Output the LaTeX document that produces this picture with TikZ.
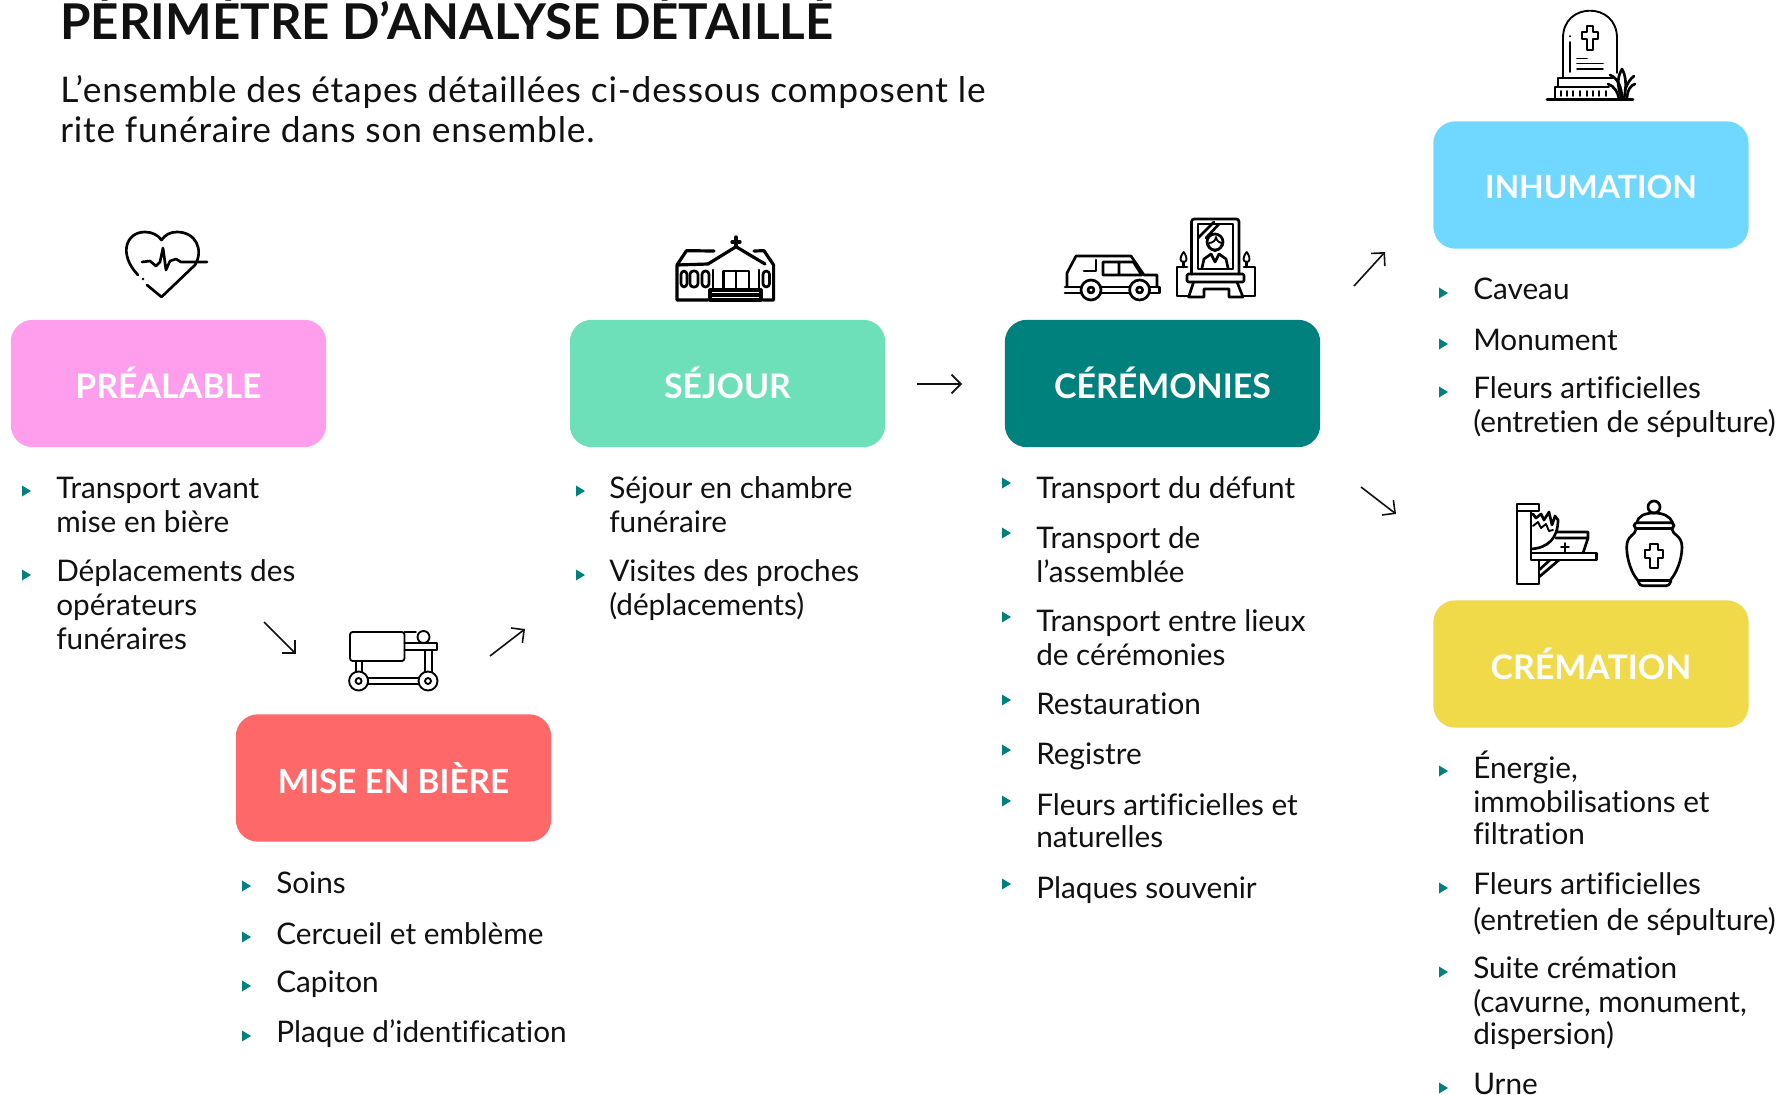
\documentclass[tikz,border=0pt]{standalone}
\usepackage{fontspec}
\setmainfont{Lato}[Ligatures=NoCommon]
\usetikzlibrary{arrows.meta}
\definecolor{cpink}{HTML}{FF9EEC}
\definecolor{cgreen}{HTML}{6EE0B9}
\definecolor{cteal}{HTML}{00817E}
\definecolor{cblue}{HTML}{70D8FF}
\definecolor{cyellow}{HTML}{F0DA4A}
\definecolor{cred}{HTML}{FF6868}
\definecolor{ctext}{HTML}{111111}
\tikzset{
  phase/.style={rounded corners=16.5pt,minimum width=236.5pt,minimum height=95.5pt,inner sep=0pt,text=white,
    text height=22.5pt,text depth=0pt,font=\fontsize{25.4pt}{28pt}\selectfont\bfseries},
  itemtext/.style={anchor=north west,inner sep=0pt,align=left,text=ctext,font=\fontsize{22.3pt}{25.5pt}\selectfont},
  flow/.style={draw=ctext,line width=1.2pt,-{Straight Barb[length=7pt,width=14pt]}},
  ic/.style={draw=black,line width=2pt,line join=round,line cap=round},
  icheavy/.style={draw=black,line width=2.4pt,line join=round,line cap=round},
  icthin/.style={draw=black,line width=1.4pt,line join=round,line cap=round}
}
\newcommand\bul[2]{\fill[cteal] (#1,#2-5.5) -- (#1+9,#2) -- (#1,#2+5.5) -- cycle;}
\newcommand\itm[4]{\node[itemtext] (#1) at (#2,#3-23) {\rule{0pt}{18pt}#4};}
\newcommand\crossicon[7]{\draw[#7] ({#1-#3},#2) -- ++({2*#3},0) -- ++(0,#4) -- ++(#5,0) -- ++(0,{2*#3}) -- ++({-#5},0) -- ++(0,#6) -- ++({-2*#3},0) -- ++(0,{-#6}) -- ++({-#5},0) -- ++(0,{-2*#3}) -- ++(#5,0) -- cycle;}
\begin{document}
\begin{tikzpicture}[x=0.75pt,y=-0.75pt]
\path[use as bounding box] (0,0) rectangle (1779,1095);
\clip (0,0) rectangle (1779,1095);
% title
\node[anchor=base west,inner sep=0pt,text=ctext,font=\fontsize{37pt}{40pt}\selectfont\bfseries] (title) at (60,40) {PÉRIMÈTRE D’ANALYSE DÉTAILLÉ};
\node[anchor=base west,inner sep=0pt,text=ctext,font=\fontsize{26.5pt}{30pt}\selectfont\addfontfeature{LetterSpace=2.2}] (sub1) at (60,103) {L’ensemble des étapes détaillées ci-dessous composent le};
\node[anchor=base west,inner sep=0pt,text=ctext,font=\fontsize{26.5pt}{30pt}\selectfont\addfontfeature{LetterSpace=2.2}] (sub2) at (60,143) {rite funéraire dans son ensemble.};
% boxes
\node[phase,fill=cpink] (prealable) at (168.5,383.5) {PRÉALABLE};
\node[phase,fill=cgreen] (sejour) at (727.5,383.5) {SÉJOUR};
\node[phase,fill=cteal] (ceremonies) at (1162.5,383.5) {CÉRÉMONIES};
\node[phase,fill=cblue,text height=21pt,font=\fontsize{24pt}{28pt}\selectfont\bfseries] (inhumation) at (1591,185) {INHUMATION};
\node[phase,fill=cyellow] (cremation) at (1591,664) {CRÉMATION};
\node[phase,fill=cred,font=\fontsize{25pt}{28pt}\selectfont\bfseries] (miseenbiere) at (393.5,778) {MISE EN BIÈRE};
% arrows
\coordinate (a1s) at (264,622); \coordinate (a1e) at (296,654);
\coordinate (a2s) at (490,656); \coordinate (a2e) at (525,629);
\coordinate (a3s) at (917,384); \coordinate (a3e) at (962,384);
\coordinate (a4s) at (1354,286); \coordinate (a4e) at (1385,252);
\coordinate (a5s) at (1361,487); \coordinate (a5e) at (1396,514);
\draw[flow] (a1s) -- (a1e);
\draw[flow] (a2s) -- (a2e);
\draw[flow] (a3s) -- (a3e);
\draw[flow] (a4s) -- (a4e);
\draw[flow] (a5s) -- (a5e);
% items
\itm{p1}{56}{497}{Transport avant\\[0.5pt]mise en bière}
\itm{p2}{56}{580}{Déplacements des\\opérateurs\\funéraires}
\bul{22}{491}\bul{22}{575}
\itm{s1}{609}{497}{Séjour en chambre\\[0.5pt]funéraire}
\itm{s2}{609}{580}{Visites des proches\\(déplacements)}
\bul{576}{491}\bul{576}{575}
\itm{c1}{1036}{497}{Transport du défunt}
\itm{c2}{1036}{547}{Transport de\\[0.5pt]l’assemblée}
\itm{c3}{1036}{630}{Transport entre lieux\\[0.5pt]de cérémonies}
\itm{c4}{1036}{713}{Restauration}
\itm{c5}{1036}{763}{Registre}
\itm{c6}{1036}{814}{Fleurs artificielles et\\[-1.5pt]naturelles}
\itm{c7}{1036}{897}{Plaques souvenir}
\foreach \yy in {483,533,617,700,750,801,884} {\bul{1002}{\yy}}
\itm{i1}{1473}{298}{Caveau}
\itm{i2}{1473}{349}{Monument}
\itm{i3}{1473}{397}{Fleurs artificielles\\(entretien de sépulture)}
\foreach \yy in {293,344,392} {\bul{1439}{\yy}}
\itm{k1}{1473}{774}{Énergie,\\immobilisations et\\[-1.5pt]filtration}
\itm{k2}{1473}{893}{Fleurs artificielles\\[1.5pt](entretien de sépulture)}
\itm{k3}{1473}{977}{Suite crémation\\(cavurne, monument,\\[-1.5pt]dispersion)}
\itm{k4}{1473}{1093}{Urne}
\foreach \yy in {771,888,972,1088} {\bul{1439}{\yy}}
\itm{m1}{276}{892}{Soins}
\itm{m2}{276}{943}{Cercueil et emblème}
\itm{m3}{276}{991}{Capiton}
\itm{m4}{276}{1041}{Plaque d’identification}
\foreach \yy in {886,937,986,1036} {\bul{242}{\yy}}
% heart icon
\draw[ic] (147,285) -- (161.5,297) -- (195,265)
  .. controls (204,250) and (196,232) .. (177,232)
  .. controls (170,232) and (165,235) .. (161.5,240)
  .. controls (158,235) and (152,232) .. (145,232)
  .. controls (126,232) and (118,254) .. (138,275);
\fill (143,279) circle (1.4);
\draw[ic] (142,262) -- (150,261) -- (156,266) -- (160,262) -- (163,248) -- (166,270) -- (170,261) -- (176,259) -- (181,262) -- (207,262);
% stretcher icon
\draw[icthin,rounded corners=2pt] (404.5,632) -- (350,632) -- (350,661) -- (404.5,661) -- cycle;
\draw[icthin] (404.5,632) -- (416,632);
\draw[icthin] (423.5,637) circle (6);
\draw[icthin] (404.5,643) -- (437,643) -- (437,650) -- (404.5,650);
\draw[icthin] (356,661) -- (356,672) (362,661) -- (362,672) (425,650) -- (425,672) (432,650) -- (432,672);
\draw[icthin] (358.6,681) circle (9.5) (358.6,681) circle (3);
\draw[icthin] (428,681) circle (9.5) (428,681) circle (3);
\draw[icthin] (368,678) -- (419,678) (368,684) -- (419,684);
% church icon
\draw[icheavy] (708,264) -- (736,246.7) -- (765,264);
\draw[icheavy] (714,251) -- (686.5,250.7) -- (677,265) (708,264) -- (677,265) -- (677,300) -- (708,300);
\draw[icheavy] (754,251) -- (764,250.7) -- (773.6,265) -- (773.6,300) -- (763,300);
\draw[icheavy] (736,247) -- (736,237) (732,242) -- (740,242);
\foreach \xa/\xb in {681/687,690/698,702/709,763/769.5} {\draw[ic,rounded corners=2.5pt] (\xa,287) -- (\xa,271) -- (\xb,271) -- (\xb,287) -- cycle;}
\draw[ic] (723.5,290) -- (723.5,271) -- (749,271) -- (749,290) (736,271) -- (736,290) (713,270) -- (713,290) (759,270) -- (759,290);
\draw[icheavy] (710,290) rectangle (761,300) (710,295) -- (761,295);
% car icon
\draw[ic] (1096,260) -- (1096,271) -- (1084,271);
\draw[ic] (1076,256) -- (1131,256) -- (1144,275) -- (1157,275) -- (1157,287) (1076,256) -- (1067,273) -- (1067,287);
\draw[ic] (1103,262) -- (1133.4,262) -- (1141.7,275) -- (1103,275) -- cycle (1119,262) -- (1119,275);
\draw[ic] (1065,287) -- (1081,287) (1101,287) -- (1129.6,287) (1150,287) -- (1159.5,287) -- (1159.5,293) -- (1150,293) (1129.6,293) -- (1101,293) (1081,293) -- (1065,293) -- cycle;
\draw[ic] (1091,290) circle (10) (1091,290) circle (3);
\draw[ic] (1139.6,290) circle (10) (1139.6,290) circle (3);
% portrait icon
\draw[ic,rounded corners=2pt] (1191.5,274) -- (1191.5,219) -- (1239,219) -- (1239,274);
\draw[ic] (1198,224) rectangle (1233,269);
\draw[ic] (1198,238) -- (1214,222) (1206,238) -- (1219,224);
\draw[ic] (1215,242) circle (8);
\draw[icthin] (1209,243) .. controls (1213,243) and (1216,240) .. (1216,237) .. controls (1216,240) and (1219,243) .. (1222,243);
\draw[icthin] (1209,245) .. controls (1210,253) and (1220,253) .. (1221,245);
\draw[ic] (1202,268) -- (1204,259) -- (1211,254) (1219,254) -- (1226,259) -- (1228,268) (1211,254) -- (1215,262) -- (1219,254);
\draw[ic,rounded corners=1pt] (1187,274) rectangle (1244,282);
\draw[ic] (1187,267) -- (1177,267) -- (1177,296) -- (1188.6,296) (1244,267) -- (1255,267) -- (1255,296) -- (1243,296);
\draw[ic] (1193.6,282) -- (1188.6,297) -- (1204,297) -- (1204,289) -- (1229,289) -- (1229,297) -- (1243,297) -- (1237,282);
\draw[ic] (1183.6,267) -- (1183.6,262) (1246.7,267) -- (1246.7,262);
\draw[icthin] (1183.6,252) .. controls (1179,258) and (1180,262) .. (1183.6,262) .. controls (1187,262) and (1188,258) .. (1183.6,252);
\draw[icthin] (1246.7,252) .. controls (1242,258) and (1243,262) .. (1246.7,262) .. controls (1250,262) and (1251,258) .. (1246.7,252);
% tomb icon
\draw[icthin] (1563,77) -- (1563,38) .. controls (1563,20) and (1576,10.7) .. (1590,10.7) .. controls (1604,10.7) and (1617,20) .. (1617,38) -- (1617,73);
\crossicon{1590}{26}{3.3}{6}{5}{11}{icthin}
\draw[icthin] (1570,42) -- (1570,72) (1570,36) -- (1570,36.5);
\draw[icthin] (1577,58.5) -- (1587,58.5) (1577,63.5) -- (1603,63.5) (1577,69) -- (1603,69);
\draw[icthin] (1613,78) -- (1558,78) -- (1558,87) (1609,87) -- (1555,87) -- (1555,99);
\draw[ic] (1547,99.7) -- (1633,99.7);
\foreach \xx in {1561,1567,1573,1580,1587,1593,1599,1606} {\draw[icthin] (\xx,91) -- (\xx,96);}
\draw[ic] (1610,75) .. controls (1618,78) and (1622,88) .. (1622,99);
\draw[ic] (1608,84) .. controls (1614,86) and (1618,92) .. (1619,99);
\draw[ic] (1622,99) .. controls (1616,84) and (1618,76) .. (1622,69) .. controls (1627,78) and (1626,88) .. (1624,99);
\draw[ic] (1625,90) .. controls (1627,84) and (1630,79) .. (1634,76);
\draw[ic] (1627,99) .. controls (1627,90) and (1631,85) .. (1635,84);
% furnace icon
\draw[ic] (1531,553) -- (1531,511) -- (1517,511) -- (1517,504) -- (1539,504) -- (1539,511) -- (1531,511);
\draw[ic] (1517,511) -- (1517,584) -- (1539,584) -- (1539,560);
\draw[ic] (1531,549) .. controls (1548,548) and (1558,538) .. (1558,520) -- (1555,516) -- (1552,525) -- (1549,512) -- (1544,520) -- (1541,514) -- (1536,518) -- (1533,514);
\draw[icthin] (1533,526) -- (1538,522) -- (1541,528) -- (1546,524) -- (1549,531) -- (1553,530);
\draw[ic] (1531,553) rectangle (1596.7,560);
\draw[ic] (1557,532) -- (1588,532) -- (1588,538) -- (1583,553) (1588,538) -- (1556,538);
\draw[icthin] (1565,543) -- (1565,553) (1561,547) -- (1569,547);
\draw[ic] (1539,577) -- (1559,560) (1539,570) -- (1550,560);
% urn icon
\draw[ic] (1654,507) circle (6);
\draw[ic] (1636.7,522.7) .. controls (1638,516) and (1645,513) .. (1654,513) .. controls (1663,513) and (1670,516) .. (1672.7,522.7);
\draw[ic,rounded corners=2.5pt] (1634,522.7) rectangle (1674,528.5);
\draw[ic] (1636,529) .. controls (1636,535) and (1626.7,535) .. (1626.7,547) .. controls (1626.7,560) and (1632,574) .. (1638,580.5) -- (1670,580.5) .. controls (1676,574) and (1682,560) .. (1682,547) .. controls (1682,535) and (1672,535) .. (1672,529);
\draw[ic,rounded corners=2pt] (1638,580.5) -- (1640,585.7) -- (1669,585.7) -- (1671,580.5);
\crossicon{1654}{544}{3.8}{6}{5}{10}{icthin}
\end{tikzpicture}
\end{document}
